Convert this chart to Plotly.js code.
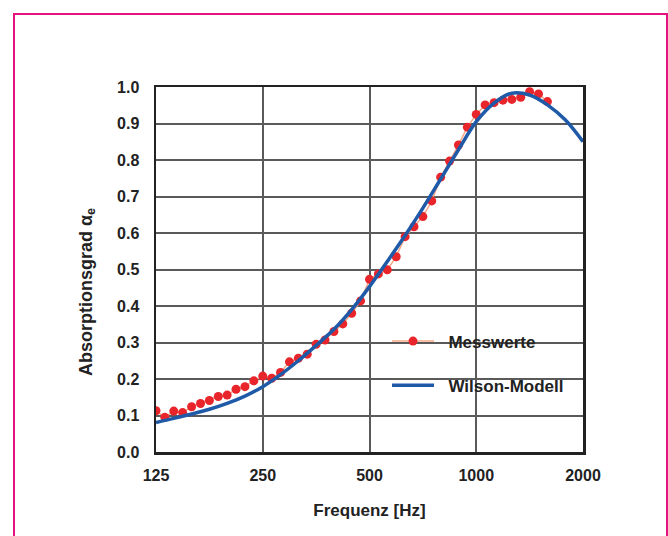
<!DOCTYPE html>
<html>
<head>
<meta charset="utf-8">
<script src="https://cdn.plot.ly/plotly-3.0.1.min.js"></script>
<style>
  html, body { margin: 0; padding: 0; background: #ffffff; overflow: hidden; }
  #wrap { position: relative; width: 668px; height: 536px; }
  #chart { position: absolute; left: 0; top: 0; width: 668px; height: 536px; }
  #frame { position: absolute; left: 13px; top: 13px; width: 655px; height: 540px;
           border: 2.5px solid #e3147f; box-sizing: border-box; pointer-events: none; }
</style>
</head>
<body>
<div id="wrap">
  <div id="chart"></div>
  <div id="frame"></div>
</div>
<script>
// Measured values (1/12-octave frequencies)
const measFreq = [125, 132.4, 140.3, 148.6, 157.5, 166.9, 176.8, 187.3, 198.4, 210.2,
  222.7, 236, 250, 264.9, 280.6, 297.3, 315, 333.7, 353.6, 374.6,
  396.9, 420.4, 445.4, 471.9, 500, 529.7, 561.2, 594.6, 630, 667.4,
  707.1, 749.2, 793.7, 840.9, 890.9, 943.9, 1000, 1059.5, 1122.5, 1189.2,
  1259.9, 1334.8, 1414.2, 1498.3, 1587.4];
const measAlpha = [0.113, 0.095, 0.112, 0.108, 0.124, 0.133, 0.141, 0.152, 0.156, 0.172,
  0.179, 0.195, 0.208, 0.202, 0.218, 0.247, 0.257, 0.268, 0.295, 0.307,
  0.330, 0.351, 0.380, 0.414, 0.473, 0.488, 0.499, 0.535, 0.590, 0.617,
  0.645, 0.688, 0.753, 0.797, 0.841, 0.890, 0.925, 0.951, 0.957, 0.964,
  0.966, 0.972, 0.987, 0.981, 0.960];

// Wilson model curve (1/6-octave points)
const modelFreq = [125, 140.3, 157.5, 176.8, 198.4, 222.7, 250, 280.6, 315, 353.6,
  396.9, 445.4, 500, 561.2, 630, 707.1, 793.7, 890.9, 1000, 1122.5,
  1259.9, 1414.2, 1587.4, 1781.8, 2000];
const modelAlpha = [0.081, 0.092, 0.104, 0.117, 0.133, 0.153, 0.179, 0.212, 0.250, 0.292,
  0.336, 0.390, 0.453, 0.522, 0.593, 0.668, 0.748, 0.828, 0.905, 0.956,
  0.983, 0.978, 0.951, 0.910, 0.850];

const seriesNames = ['\u00a0\u00a0Messwerte', '\u00a0\u00a0Wilson-Modell'];

const xTicks = [125, 250, 500, 1000, 2000];
const xTickText = ['125', '250', '500', '1000', '2000'];

const fontFam = '"Liberation Sans", Arial, sans-serif';

const traces = [
  {
    x: measFreq, y: measAlpha, name: seriesNames[0], type: 'scatter', mode: 'lines+markers',
    line: { color: '#f6a889', width: 1.5 },
    marker: { color: '#e8252b', size: 9 },
    legendgroup: 'a', cliponaxis: true
  },
  {
    x: modelFreq, y: modelAlpha, name: seriesNames[1], type: 'scatter', mode: 'lines',
    line: { color: '#1f5aa8', width: 3.5, shape: 'spline', smoothing: 1.0 },
    legendgroup: 'b'
  }
];

const layout = {
  width: 668, height: 536,
  margin: { l: 156, r: 85, t: 87, b: 84 },
  paper_bgcolor: '#ffffff', plot_bgcolor: '#ffffff',
  font: { family: fontFam, size: 16, color: '#222222' },
  showlegend: true,
  legend: {
    x: 0.541, y: 0.352, xanchor: 'left', yanchor: 'top',
    bgcolor: 'rgba(255,255,255,0)', borderwidth: 0,
    font: { family: fontFam, size: 17, color: '#222222', weight: 'bold' },
    tracegroupgap: 19, itemwidth: 42, traceorder: 'grouped'
  },
  shapes: [
    { type: 'rect', xref: 'paper', yref: 'paper', layer: 'between',
      x0: 0.513, x1: 0.988, y0: 0.134, y1: 0.356,
      fillcolor: '#ffffff', line: { width: 0 } }
  ],
  annotations: [
    { text: 'Absorptionsgrad α<sub>e</sub>', xref: 'paper', yref: 'paper',
      x: -0.162, y: 0.438, xanchor: 'center', yanchor: 'middle', textangle: -90,
      showarrow: false,
      font: { family: fontFam, size: 18, color: '#222222', weight: 'bold' } }
  ],
  xaxis: {
    type: 'log', range: [Math.log10(125), Math.log10(2000)],
    tickvals: xTicks, ticktext: xTickText,
    showgrid: true, gridcolor: '#5a5a5a', gridwidth: 2,
    showline: true, mirror: true, linecolor: '#222222', linewidth: 2.5,
    ticks: '', ticklabelstandoff: 7,
    tickfont: { family: fontFam, size: 16, color: '#222222', weight: 'bold' },
    title: { text: 'Frequenz [Hz]', standoff: 22,
             font: { family: fontFam, size: 17, color: '#222222', weight: 'bold' } },
    zeroline: false, fixedrange: true
  },
  yaxis: {
    range: [0, 1], dtick: 0.1, tick0: 0, tickformat: '.1f',
    showgrid: true, gridcolor: '#5a5a5a', gridwidth: 2,
    showline: true, mirror: true, linecolor: '#222222', linewidth: 2.5,
    ticks: '', ticklabelstandoff: 11,
    tickfont: { family: fontFam, size: 16, color: '#222222', weight: 'bold' },
    zeroline: false, fixedrange: true
  }
};

Plotly.newPlot('chart', traces, layout, { staticPlot: true, displayModeBar: false });
</script>
</body>
</html>
